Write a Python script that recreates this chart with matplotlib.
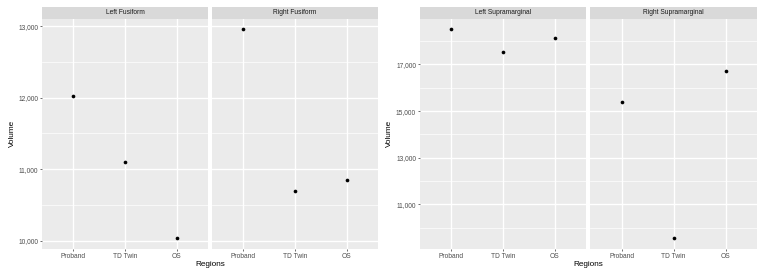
import matplotlib
matplotlib.use('Agg')
from matplotlib import pyplot as plt
from matplotlib.ticker import FuncFormatter
import numpy as np

plt.rcParams['font.family'] = ['Liberation Sans', 'DejaVu Sans']

# 数据
regions = ['Proband', 'TD Twin', 'OS']
left_fusiform = [12022, 11098, 10032]
right_fusiform = [12954, 10688, 10852]
left_supramarginal = [18505, 17546, 18148]
right_supramarginal = [15387, 9538, 16729]

fusiform_titles = ['Left Fusiform', 'Right Fusiform']
supramarginal_titles = ['Left Supramarginal', 'Right Supramarginal']
fusiform_major = [10000, 11000, 12000, 13000]
fusiform_minor = [10500, 11500, 12500]
supramarginal_major = [11000, 13000, 15000, 17000]
supramarginal_minor = [10000, 12000, 14000, 16000, 18000]

W, H = 763, 275
fig = plt.figure(figsize=(W / 100, H / 100), dpi=100)

PANEL_BG = '#EBEBEB'
STRIP_BG = '#D9D9D9'
TICK_COL = '#4D4D4D'


def px_axes(x0, y0, x1, y1):
    """像素坐标 (左上为原点) 转换为 figure 坐标"""
    return fig.add_axes([x0 / W, 1 - y1 / H, (x1 - x0) / W, (y1 - y0) / H])


def draw_facet(panels, titles, major, minor, ylabel_x, xlabel_x):
    values = np.concatenate([np.array(v) for _, v in panels])
    lo, hi = values.min(), values.max()
    pad = (hi - lo) * 0.05
    for i, ((x0, x1), vals) in enumerate(panels):
        ax = px_axes(x0, 19, x1, 248.7)
        ax.set_facecolor(PANEL_BG)
        for s in ax.spines.values():
            s.set_visible(False)
        for m in minor:
            ax.axhline(m, color='white', lw=0.5, zorder=1)
        for m in major:
            ax.axhline(m, color='white', lw=1.0, zorder=1)
        for k in range(len(regions)):
            ax.axvline(k, color='white', lw=1.0, zorder=1)
        ax.scatter(range(len(regions)), vals, s=7, color='black', zorder=3, linewidths=0)
        ax.set_xlim(-0.6, len(regions) - 0.4)
        ax.set_ylim(lo - pad, hi + pad)
        ax.set_xticks(range(len(regions)))
        ax.set_xticklabels(regions)
        ax.set_yticks(major)
        ax.yaxis.set_major_formatter(FuncFormatter(lambda v, p: f'{int(v):,}'))
        ax.tick_params(length=1.3, width=0.5, color='#333333', labelsize=4.8,
                       labelcolor=TICK_COL, pad=1.5)
        if i > 0:
            ax.tick_params(axis='y', left=False, labelleft=False)

        # 分面标题条
        st = px_axes(x0, 6.7, x1, 19)
        st.set_facecolor(STRIP_BG)
        st.set_xticks([])
        st.set_yticks([])
        for s in st.spines.values():
            s.set_visible(False)
        st.text(0.5, 0.5, titles[i], ha='center', va='center', fontsize=4.8,
                color='#1A1A1A', transform=st.transAxes)

    fig.text(ylabel_x / W, 1 - 133.7 / H, 'Volume', rotation=90, ha='center', va='center',
             fontsize=5.9, color='black')
    fig.text(xlabel_x / W, 1 - 264 / H, 'Regions', ha='center', va='center',
             fontsize=5.9, color='black')


draw_facet([((42, 208), left_fusiform), ((212, 377.7), right_fusiform)],
           fusiform_titles, fusiform_major, fusiform_minor, 12, 210)
draw_facet([((420, 585.7), left_supramarginal), ((590.3, 756.7), right_supramarginal)],
           supramarginal_titles, supramarginal_major, supramarginal_minor, 389.5, 588)

fig.savefig('out.png', dpi=100, facecolor='white')
